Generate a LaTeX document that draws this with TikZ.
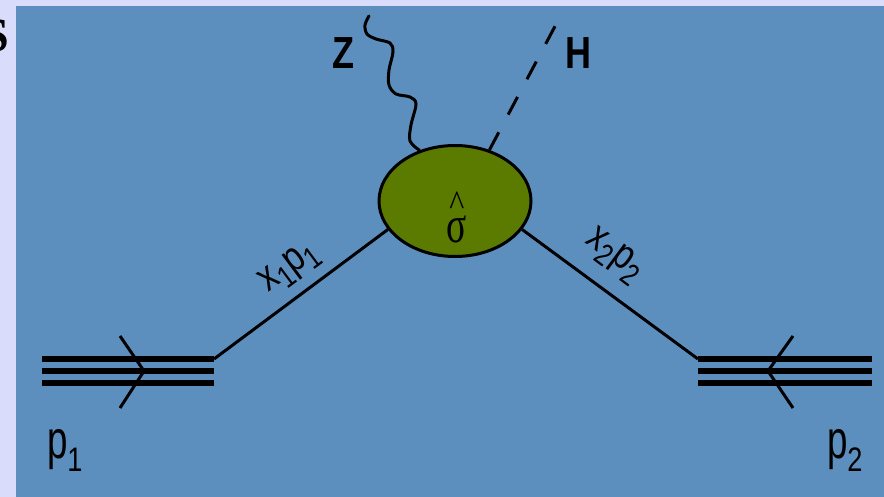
\documentclass[tikz,border=0pt]{standalone}
\usepackage{graphicx}
\usepackage{fontspec}
\usetikzlibrary{shapes.geometric}
\setmainfont{Liberation Sans}
\newfontfamily\serifface{Liberation Serif}
\definecolor{lav}{RGB}{217,221,251}
\definecolor{panel}{RGB}{93,143,190}
\definecolor{olive}{RGB}{90,122,0}
\newcommand\narrow[2][0.8]{\scalebox{#1}[1]{#2}}
\newcommand\subdigit[2]{\raisebox{#2}{\fontsize{34}{34}\selectfont\scalebox{0.8}[1]{#1}}}
\newcommand\smallsub[1]{\raisebox{-9pt}{\fontsize{31}{31}\selectfont #1}}
\begin{document}
\begin{tikzpicture}[x=1pt,y=-1pt,
  thinln/.style={line width=3pt},
  beamln/.style={line width=5.5pt},
  lbl/.style={inner sep=0pt, outer sep=0pt, text=black}]
\fill[lav] (0,0) rectangle (884,497);
\fill[panel] (16,6) rectangle (884,497);
\useasboundingbox (0,0) rectangle (884,497);
\node[lbl, font=\serifface\bfseries\fontsize{48}{48}\selectfont, anchor=base east] (S) at (9,52) {S};

% blob
\node[ellipse, draw, line width=3pt, fill=olive, minimum width=152pt, minimum height=111pt, inner sep=0pt] (blob) at (455,201) {};
\node[lbl, anchor=base, font=\serifface\fontsize{40}{40}\selectfont] (hat) at (457,216) {\scalebox{0.8}[0.9]{\textasciicircum}};
\node[lbl, anchor=base, font=\serifface\fontsize{52}{52}\selectfont] (sig) at (457,243) {\scalebox{0.72}[1]{σ}};

% left proton
\coordinate (la1) at (42,359);  \coordinate (lb1) at (214,359);
\coordinate (la2) at (42,371);  \coordinate (lb2) at (214,371);
\coordinate (la3) at (42,383);  \coordinate (lb3) at (214,383);
\draw[beamln] (la1) -- (lb1);
\draw[beamln] (la2) -- (lb2);
\draw[beamln] (la3) -- (lb3);
\coordinate (lc1) at (120,336); \coordinate (lct) at (144,371); \coordinate (lc2) at (120,408);
\draw[thinln] (lc1) -- (lct) -- (lc2);
\draw[thinln] (lb1) -- (blob.203);

% right proton
\coordinate (ra1) at (698,359);  \coordinate (rb1) at (872,359);
\coordinate (ra2) at (698,371);  \coordinate (rb2) at (872,371);
\coordinate (ra3) at (698,383);  \coordinate (rb3) at (872,383);
\draw[beamln] (ra1) -- (rb1);
\draw[beamln] (ra2) -- (rb2);
\draw[beamln] (ra3) -- (rb3);
\coordinate (rc1) at (793,336); \coordinate (rct) at (768,371); \coordinate (rc2) at (793,408);
\draw[thinln] (rc1) -- (rct) -- (rc2);
\draw[thinln] (ra1) -- (blob.337);

% Higgs
\coordinate (hend) at (561,15);
\draw[thinln, dash pattern=on 20pt off 20pt] (blob.56) -- (hend);

% Z boson
\draw[thinln, line cap=round] plot[smooth, tension=0.55] coordinates {(blob.125) (410,141) (411,125) (416,104) (410,97) (396,94) (389,85) (389,70) (393,52) (390,43) (376,39) (367,34) (365,25) (369,16)};

% labels
\node[lbl, font=\bfseries\fontsize{45}{45}\selectfont] (Z) at (343,53) {\narrow{Z}};
\node[lbl, font=\bfseries\fontsize{45}{45}\selectfont] (H) at (578,53) {\narrow{H}};
\node[lbl, anchor=base west, font=\fontsize{54}{54}\selectfont] (p1) at (47,458) {\narrow[0.68]{p}\subdigit{1}{-13pt}};
\node[lbl, anchor=base west, font=\fontsize{54}{54}\selectfont] (p2) at (827,458) {\narrow[0.68]{p}\subdigit{2}{-13pt}};
\node[lbl, rotate=36.6, font=\fontsize{42}{42}\selectfont] (x1) at (290,268) {\narrow[0.8]{x\smallsub{1}p\smallsub{1}}};
\node[lbl, rotate=-36.6, font=\fontsize{42}{42}\selectfont] (x2) at (614,256) {\narrow[0.8]{x\smallsub{2}p\smallsub{2}}};
\end{tikzpicture}
\end{document}
